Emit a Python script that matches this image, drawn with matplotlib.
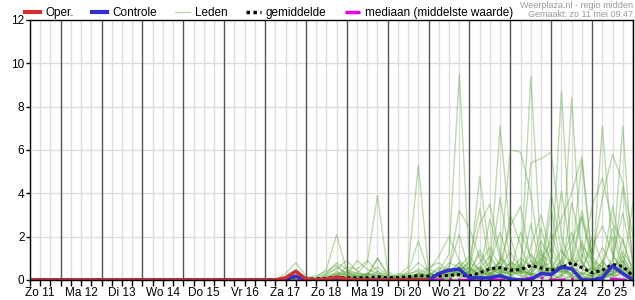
import matplotlib
matplotlib.use("Agg")
import matplotlib.pyplot as plt
from matplotlib.lines import Line2D

plt.rcParams['font.family'] = ['Liberation Sans', 'DejaVu Sans']

# 6-hourly steps, hours counted from 11 May 00:00
hours = list(range(6, 361, 6))
day_labels = ["Zo 11", "Ma 12", "Di 13", "Wo 14", "Do 15", "Vr 16", "Za 17", "Zo 18",
              "Ma 19", "Di 20", "Wo 21", "Do 22", "Vr 23", "Za 24", "Zo 25"]

oper = [0]*24 + [0, 0.1, 0.4, 0.05, 0, 0.05, 0.13, 0.05, 0, 0, 0, 0, 0, 0, 0, 0]
controle = [0]*24 + [0, 0.05, 0.18, 0.02, 0, 0, 0.05, 0, 0, 0, 0, 0, 0, 0, 0, 0,
                     0.3, 0.45, 0.5, 0.1, 0.1, 0.1, 0.2, 0.05, 0, 0.02, 0.3, 0.25,
                     0.6, 0.52, 0, 0, 0.1, 0.65, 0.3, 0]
gemiddelde = [0]*24 + [0.02, 0.05, 0.15, 0.05, 0.05, 0.08, 0.12, 0.1, 0.1, 0.1, 0.15, 0.1,
                       0.1, 0.15, 0.2, 0.18, 0.18, 0.22, 0.25, 0.18, 0.33, 0.52, 0.57, 0.45,
                       0.48, 0.67, 0.55, 0.45, 0.57, 0.8, 0.57, 0.33, 0.45, 0.72, 0.63, 0.18]
mediaan = [0]*24 + [0, 0, 0, 0, 0, 0, 0, 0, 0, 0, 0, 0, 0, 0, 0, 0,
                    0, 0.05, 0, 0, 0, 0, 0, 0, 0, 0.1, 0.1, 0, 0, 0.05, 0, 0,
                    0, 0.05, 0, 0]

# ensemble members, values from 17 May 06:00 (step 24) onward; zero before
leden = [
    [0, 0.3, 0.8, 0.2, 0, 0, 0.3, 0.1, 0, 0, 0, 0, 0, 0, 0.2, 0, 0.4, 1.2, 9.5, 0.6, 0, 0.3, 0.8, 0.2, 0, 0.5, 1.4, 0.3, 0, 0.2, 0.9, 0, 0, 0.4, 1.1, 0.2],
    [0, 0.1, 0.5, 0.1, 0, 0.2, 0.6, 0.3, 0.1, 0, 0, 0, 0, 0, 0, 0, 0, 0.2, 0.5, 0.1, 0.3, 0.6, 7.1, 2.0, 0.4, 0, 0.3, 1.5, 0.6, 0.2, 0, 0.4, 0.8, 2.0, 0.6, 0.1],
    [0, 0, 0.2, 0, 0.1, 0.5, 2.1, 0.4, 0.1, 0.3, 0.2, 0, 0, 0, 0.3, 0.1, 0, 0.1, 0.3, 0.6, 0.2, 0, 1.0, 0.4, 0.3, 9.4, 1.2, 0, 0.2, 0.5, 1.8, 0.6, 0, 0.3, 0.9, 0],
    [0, 0, 0, 0.1, 0.2, 0.4, 0.7, 0.2, 0.3, 0.8, 3.9, 0.4, 0.1, 0, 0.2, 0, 0, 0.3, 0.8, 0.2, 0.1, 0.5, 0.3, 0.1, 0.6, 0.2, 1.0, 0.4, 8.7, 0.5, 0.2, 0, 0.3, 0.7, 0.4, 0.1],
    [0, 0, 0.1, 0, 0, 0.3, 0.5, 0.9, 0.4, 0.2, 1.0, 0.2, 0.1, 0.4, 1.8, 0.3, 0.2, 0.6, 2.1, 0.3, 0.5, 1.1, 0.4, 0.2, 0.8, 0.3, 0.2, 0.6, 0.4, 8.4, 0.8, 0.2, 0.1, 0.3, 0.6, 0.2],
    [0, 0, 0.2, 0, 0, 0.1, 0.4, 0.2, 0.9, 0.5, 0.3, 0.1, 0.2, 0.6, 5.3, 0.4, 0, 0.2, 0.3, 0.1, 0.4, 0.2, 0.6, 1.3, 0.5, 0.2, 0.1, 0.3, 0.9, 0.4, 0.3, 0.2, 7.1, 1.2, 0.3, 0],
    [0, 0, 0.1, 0, 0, 0.2, 0.3, 0.4, 0.2, 0.3, 0.6, 0.2, 0, 0.2, 0.1, 0.2, 0.3, 0.5, 0.4, 0.3, 4.8, 1.0, 0.3, 0.6, 0.4, 0.3, 0.8, 0.2, 0.5, 0.3, 0.2, 0.6, 0.3, 0.8, 7.1, 0.3],
    [0, 0, 0, 0, 0.1, 0.3, 0.8, 0.5, 0.3, 0.2, 1.0, 0.3, 0, 0.1, 0.3, 0.2, 0.5, 0.3, 0.2, 0.4, 0.6, 0.2, 0.9, 6.0, 5.9, 4.0, 0.7, 0.3, 0.4, 0.5, 1.2, 0.5, 0.2, 0.6, 0.9, 0.2],
    [0, 0, 0, 0, 0, 0.1, 0.2, 0.6, 0.5, 0.9, 0.4, 0.1, 0.2, 0.3, 0.4, 0.2, 0.1, 0.3, 0.6, 1.1, 0.4, 0.2, 0.3, 0.8, 0.6, 5.4, 5.6, 5.9, 2.0, 0.6, 0.3, 0.2, 0.5, 0.4, 0.3, 0.1],
    [0, 0, 0, 0, 0, 0.1, 0.3, 0.2, 0.1, 0.2, 0.3, 0.1, 0, 0.2, 0.5, 0.3, 0.2, 0.8, 0.6, 0.4, 1.2, 0.5, 0.3, 0.4, 1.0, 0.6, 0.9, 1.8, 2.8, 4.0, 5.7, 0.9, 0.4, 0.2, 0.6, 0.1],
    [0, 0, 0, 0, 0, 0, 0.2, 0.3, 0.2, 0.1, 0.2, 0.1, 0.1, 0.1, 0.3, 0.2, 0.6, 0.4, 0.3, 0.2, 0.4, 0.8, 2.2, 0.6, 0.3, 1.5, 3.0, 1.2, 0.5, 1.0, 5.5, 0.8, 0.3, 0.5, 0.2, 0],
    [0, 0, 0, 0, 0, 0, 0.1, 0.4, 0.3, 0.2, 0.1, 0, 0, 0.1, 0.2, 0.1, 0.3, 0.2, 0.4, 0.8, 0.5, 0.3, 0.6, 0.4, 0.2, 0.9, 0.4, 0.3, 0.6, 1.8, 2.9, 1.0, 3.8, 5.8, 4.5, 2.0],
    [0, 0, 0, 0, 0, 0, 0, 0.2, 0.1, 0.3, 0.2, 0.1, 0, 0, 0.1, 0.3, 0.2, 0.4, 0.8, 0.3, 0.2, 0.3, 0.5, 0.2, 0.4, 0.3, 1.2, 0.8, 0.3, 0.6, 1.0, 3.4, 4.7, 2.6, 1.8, 0.4],
    [0, 0, 0, 0, 0, 0, 0.1, 0.1, 0, 0.2, 0.4, 0.2, 0.1, 0.3, 0.8, 0.4, 1.1, 2.0, 0.9, 0.5, 2.6, 3.5, 1.2, 0.4, 0.7, 0.3, 0.2, 0.5, 1.4, 0.6, 0.3, 2.0, 0.8, 0.4, 1.3, 0.6],
    [0, 0, 0, 0, 0, 0, 0.1, 0, 0.1, 0, 0.1, 0.1, 0.3, 0.2, 0.1, 0.5, 0.3, 0.6, 3.2, 2.4, 1.0, 0.3, 0.2, 3.0, 1.6, 0.4, 2.4, 0.7, 0.2, 3.6, 1.5, 0.3, 0.2, 1.0, 3.1, 0.8],
    [0, 0, 0, 0, 0, 0, 0, 0.1, 0.2, 0.1, 0, 0, 0, 0.1, 0.2, 0.1, 0.2, 0.4, 0.3, 0.3, 0.8, 1.5, 0.6, 0.3, 2.2, 1.1, 0.5, 4.0, 1.3, 0.8, 3.2, 1.1, 0.5, 2.4, 0.8, 0.2],
    [0, 0, 0, 0, 0, 0, 0, 0, 0, 0.1, 0.2, 0.1, 0, 0.2, 0.3, 0.6, 0.8, 0.4, 0.6, 0.5, 0.3, 2.8, 1.0, 0.6, 0.4, 0.2, 1.8, 0.9, 0.5, 0.3, 0.6, 1.5, 2.5, 1.2, 0.4, 3.6],
    [0, 0, 0, 0, 0, 0, 0.1, 0, 0, 0, 0.1, 0, 0.1, 0.1, 0.2, 0.1, 0.3, 0.2, 0.4, 0.9, 3.3, 0.6, 0.4, 0.8, 0.3, 2.6, 0.5, 0.2, 0.9, 2.2, 0.7, 0.4, 1.5, 0.6, 4.3, 1.0],
    [0, 0, 0, 0, 0, 0.1, 0.2, 0.1, 0.2, 0.1, 0, 0, 0, 0, 0.1, 0, 0.1, 0.3, 0.2, 0.1, 0.2, 0.4, 3.8, 0.9, 0.4, 1.2, 0.6, 0.8, 4.1, 1.0, 0.5, 0.3, 0.2, 0.3, 0.5, 0.2],
    [0, 0, 0, 0, 0, 0, 0.2, 0.1, 0.1, 0.1, 0.1, 0.1, 0.2, 0.1, 0, 0.1, 0.2, 0.1, 0.6, 0.3, 1.4, 0.5, 0.8, 2.5, 3.4, 0.9, 0.3, 0.6, 0.4, 0.2, 1.6, 0.9, 0.6, 3.4, 1.1, 0.3],
    [0, 0, 0, 0, 0, 0, 0, 0, 0, 0, 0, 0, 0, 0, 0, 0, 0, 0.1, 0.2, 0.1, 0.3, 0.2, 0.4, 0.3, 0.6, 0.2, 0.5, 0.3, 0.2, 0.1, 0.3, 0.5, 0.4, 0.2, 0.3, 0.1],
    [0, 0, 0, 0, 0, 0, 0, 0, 0, 0, 0, 0, 0, 0, 0, 0, 0, 0, 0, 0, 0, 0, 0.1, 0, 0, 0, 0.2, 0.1, 0, 0, 0, 0.1, 0, 0, 0, 0],
    [0, 0, 0, 0, 0, 0, 0, 0, 0, 0, 0, 0.1, 0, 0, 0, 0, 0.1, 0, 0, 0, 0, 0.1, 0.2, 0.4, 0.2, 0.1, 0.1, 2.2, 0.6, 0.2, 0.1, 0.1, 0.9, 0.3, 0.1, 0],
    [0, 0, 0, 0, 0, 0, 0.1, 0, 0, 0, 0, 0, 0, 0, 0, 0, 0.2, 0.5, 0.3, 0.1, 0, 0.2, 0.1, 0, 0.1, 0.3, 0.1, 0, 0.2, 0.6, 2.9, 0.7, 0.2, 0.1, 0.4, 0.2],
    [0, 0, 0, 0, 0, 0, 0, 0, 0, 0, 0, 0, 0, 0, 0, 0, 0, 0, 0.1, 0.2, 0.6, 0.3, 0.1, 0.1, 0, 0.1, 0.4, 0.2, 0.1, 0, 0.1, 0.2, 0.7, 0.2, 0, 0],
    [0, 0, 0, 0, 0, 0, 0, 0, 0, 0, 0, 0, 0, 0, 0, 0, 0, 0, 0, 0, 0.1, 0.1, 0.2, 0, 0, 0, 0.3, 3.3, 0.5, 0.1, 0, 0.2, 0.1, 0.2, 1.9, 0.3],
]
leden_start = 24

red = '#d03030'
blue = '#3030d0'
green = '#5aa335'
magenta = '#e000e0'

fig = plt.figure(figsize=(6.35, 3.0), dpi=100)
ax = fig.add_axes([30 / 635, 20 / 300, 603 / 635, 260 / 300])

# grid: light every 6 h, dark at midnight
for h in range(6, 361, 6):
    if h % 24 == 0:
        ax.axvline(h, color='#555555', lw=1.0, zorder=1)
    else:
        ax.axvline(h, color='#dddddd', lw=1.0, zorder=0)
for yv in range(2, 12, 2):
    ax.axhline(yv, color='#dddddd', lw=1.0, zorder=0)

for m in leden:
    vals = [0] * leden_start + m
    ax.plot(hours, vals, color=green, lw=1.0, alpha=0.4, zorder=2)

ax.plot(hours, mediaan, color=magenta, lw=2.0, ls=(0, (6, 2, 1, 2)), zorder=3)
ax.plot(hours, gemiddelde, color='black', lw=2.2, ls=(0, (1, 1)), zorder=4)
ax.plot(hours, controle, color=blue, lw=2.5, zorder=5)
ax.plot(hours[:len(oper)], oper, color=red, lw=2.5, zorder=6)

ax.set_xlim(6, 360)
ax.set_ylim(0, 12)
ax.set_yticks(range(0, 13, 2))
ax.set_xticks([12 + 24 * i for i in range(len(day_labels))])
ax.set_xticklabels(day_labels)
ax.set_xticks(range(6, 361, 6), minor=True)
ax.tick_params(axis='x', which='both', length=4, width=1, labelsize=8.5, pad=1)
ax.tick_params(axis='y', length=3, width=1, labelsize=8.5, pad=1)
for s in ax.spines.values():
    s.set_linewidth(1.0)
    s.set_zorder(7)

handles = [
    Line2D([], [], color=red, lw=3),
    Line2D([], [], color=blue, lw=3),
    Line2D([], [], color='#b8d8a8', lw=1),
    Line2D([], [], color='black', lw=2.5, ls=(0, (1, 1))),
    Line2D([], [], color=magenta, lw=2.5, ls=(0, (6, 2, 1, 2))),
]
labels = ["Oper.", "Controle", "Leden", "gemiddelde", "mediaan (middelste waarde)"]
fig.legend(handles, labels, loc='upper left', bbox_to_anchor=(22 / 635, 1 - 4 / 300), ncol=5,
           frameon=False, fontsize=8.5, handlelength=1.3, handletextpad=0.4,
           columnspacing=1.55, borderaxespad=0, borderpad=0.25)

fig.text(633 / 635, 1 - 1 / 300, "Weerplaza.nl - regio midden", ha='right', va='top',
         fontsize=6.5, color='#999999')
fig.text(633 / 635, 1 - 10 / 300, "Gemaakt: zo 11 mei 09:47", ha='right', va='top',
         fontsize=6.5, color='#999999')

fig.savefig('out.png', dpi=100)
